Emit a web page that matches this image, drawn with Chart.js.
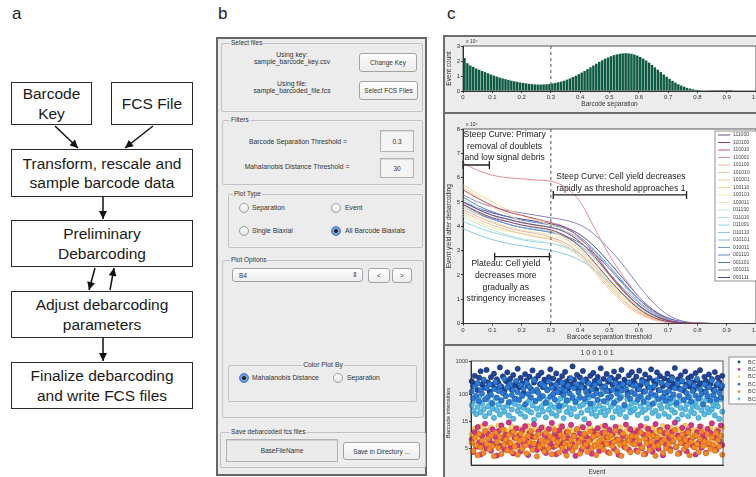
<!DOCTYPE html>
<html>
<head>
<meta charset="utf-8">
<title>Debarcoding figure</title>
<script src="https://cdn.jsdelivr.net/npm/chart.js@4.4.1/dist/chart.umd.min.js"></script>
<style>
  body { margin: 0; width: 756px; height: 477px; overflow: hidden; position: relative; background: #fff;
         font-family: 'Liberation Sans', Arial, sans-serif; color: #1a1a1a; }
  .panel-label { position: absolute; top: 5px; font-size: 17px; line-height: 17px; color: #222; }
  .fbox { position: absolute; box-sizing: border-box; border: 1.5px solid #2a2a2a; display: flex; align-items: center;
          justify-content: center; text-align: center; font-size: 15.5px; line-height: 19.5px; color: #1a1a1a; }
  #gui { position: absolute; left: 216px; top: 37px; width: 211px; height: 439px; box-sizing: border-box;
         border: 2px solid #666; background: #ececec; }
  .gb { position: absolute; box-sizing: border-box; border: 1px solid #c2c2c2; border-radius: 2px; }
  .gl { position: absolute; font-size: 6.5px; line-height: 8px; padding: 0 1px; background: #ececec; color: #333; white-space: nowrap; }
  .tc { position: absolute; transform: translate(-50%, -50%); font-size: 6.8px; line-height: 8px; color: #333; white-space: nowrap; }
  .tl { position: absolute; transform: translateY(-50%); font-size: 6.8px; line-height: 8px; color: #333; white-space: nowrap; }
  .btn { position: absolute; box-sizing: border-box; border: 1px solid #a3a3a3; border-radius: 3px;
         background: linear-gradient(#fefefe, #ececec); display: flex; align-items: center; justify-content: center;
         font-size: 6.5px; color: #333; white-space: nowrap; }
  .inp { position: absolute; box-sizing: border-box; border: 1px solid #b3b3b3; background: #f4f4f4;
         box-shadow: inset 0 1px 1px rgba(0,0,0,0.12); display: flex; align-items: center; justify-content: center;
         font-size: 6.5px; color: #333; }
  .rd { position: absolute; width: 10px; height: 10px; box-sizing: border-box; border-radius: 50%; border: 1px solid #9d9d9d;
        background: linear-gradient(#fff, #e4e4e4); transform: translate(-50%, -50%); }
  .rd.on { border-color: #4a78b8; background: radial-gradient(circle, #222 0, #222 1.5px, #77aaea 2.3px, #3f80d8 100%); }
  #figc { position: absolute; left: 443px; top: 35px; width: 320px; height: 450px; box-sizing: border-box;
          border: 2px solid #6d6d6d; background: #ececec; }
  .sep { position: absolute; left: 443px; width: 313px; height: 2px; background: #6d6d6d; }
  canvas { position: absolute; }
</style>
</head>
<body>

<div class="panel-label" style="left:12px">a</div>
<div class="panel-label" style="left:218px">b</div>
<div class="panel-label" style="left:447px">c</div>

<!-- a: workflow -->
<div class="fbox" style="left:11px;top:82px;width:81px;height:43px">Barcode<br>Key</div>
<div class="fbox" style="left:111px;top:82px;width:82px;height:43px">FCS File</div>
<div class="fbox" style="left:11px;top:149px;width:182px;height:48px">Transform, rescale and<br>sample barcode data</div>
<div class="fbox" style="left:11px;top:220px;width:182px;height:47px">Preliminary<br>Debarcoding</div>
<div class="fbox" style="left:11px;top:291px;width:182px;height:47px">Adjust debarcoding<br>parameters</div>
<div class="fbox" style="left:11px;top:362px;width:182px;height:47px">Finalize debarcoding<br>and write FCS files</div>
<svg style="position:absolute;left:0;top:0" width="210" height="477">
  <defs>
    <marker id="ah" viewBox="0 0 10 10" refX="10" refY="5" markerWidth="9" markerHeight="8" markerUnits="userSpaceOnUse" orient="auto">
      <path d="M0,0 L10,5 L0,10 z" fill="#111"/>
    </marker>
  </defs>
  <g stroke="#111" stroke-width="1.5" marker-end="url(#ah)">
    <line x1="55" y1="126" x2="78" y2="148"/>
    <line x1="153" y1="126" x2="125" y2="148"/>
    <line x1="103" y1="197" x2="103" y2="219"/>
    <line x1="95" y1="268" x2="89" y2="290"/>
    <line x1="110" y1="290" x2="114" y2="268"/>
    <line x1="103" y1="338" x2="103" y2="361"/>
  </g>
</svg>

<!-- b: GUI -->
<div id="gui"></div>
<div class="gb" style="left:221px;top:43px;width:202px;height:69px"></div>
<div class="gl" style="left:230px;top:39px">Select files</div>
<div class="tc" style="left:292px;top:55px">Using key:</div>
<div class="tc" style="left:292px;top:62px">sample_barcode_key.csv</div>
<div class="btn" style="left:359px;top:53px;width:58px;height:19px">Change Key</div>
<div class="tc" style="left:292px;top:84px">Using file:</div>
<div class="tc" style="left:292px;top:91px">sample_barcoded_file.fcs</div>
<div class="btn" style="left:359px;top:81px;width:59px;height:19px">Select FCS Files</div>

<div class="gb" style="left:222px;top:120px;width:201px;height:65px"></div>
<div class="gl" style="left:230px;top:116px">Filters</div>
<div class="tc" style="left:298px;top:142px">Barcode Separation Threshold =</div>
<div class="inp" style="left:380px;top:130px;width:34px;height:22px">0.3</div>
<div class="tc" style="left:297px;top:167px">Mahalanobis Distance Threshold =</div>
<div class="inp" style="left:380px;top:158px;width:34px;height:20px">30</div>

<div class="gb" style="left:228px;top:194px;width:195px;height:54px"></div>
<div class="gl" style="left:233px;top:190px">Plot Type</div>
<div class="rd" style="left:244px;top:208px"></div><div class="tl" style="left:252px;top:208px">Separation</div>
<div class="rd" style="left:336px;top:208px"></div><div class="tl" style="left:345px;top:208px">Event</div>
<div class="rd" style="left:244px;top:231px"></div><div class="tl" style="left:252px;top:231px">Single Biaxial</div>
<div class="rd on" style="left:336px;top:231px"></div><div class="tl" style="left:345px;top:231px">All Barcode Biaxials</div>

<div class="gb" style="left:222px;top:260px;width:202px;height:158px"></div>
<div class="gl" style="left:230px;top:256px">Plot Options</div>
<div class="btn" style="left:232px;top:268px;width:131px;height:14px;justify-content:space-between;padding:0 4px 0 6px"><span>B4</span><span style="font-size:7px">&#8661;</span></div>
<div class="btn" style="left:368px;top:268px;width:22px;height:15px">&lt;</div>
<div class="btn" style="left:392px;top:268px;width:20px;height:15px">&gt;</div>
<div class="gb" style="left:228px;top:365px;width:189px;height:37px"></div>
<div class="tc" style="left:323px;top:365px;background:#ececec;padding:0 1px">Color Plot By</div>
<div class="rd on" style="left:244px;top:378px"></div><div class="tl" style="left:252px;top:378px">Mahalanobis Distance</div>
<div class="rd" style="left:338px;top:378px"></div><div class="tl" style="left:347px;top:378px">Separation</div>

<div class="gb" style="left:220px;top:432px;width:206px;height:36px"></div>
<div class="gl" style="left:230px;top:428px">Save debarcoded fcs files</div>
<div class="inp" style="left:226px;top:439px;width:112px;height:23px;background:#ebebeb">BaseFileName</div>
<div class="btn" style="left:343px;top:442px;width:77px;height:18px">Save in Directory ...</div>

<!-- c: plots -->
<div id="figc"></div>
<div class="sep" style="top:112px"></div>
<div class="sep" style="top:344px"></div>
<canvas id="hist" width="311" height="75" style="left:445px;top:37px"></canvas>
<canvas id="yield" width="311" height="230" style="left:445px;top:114px"></canvas>
<canvas id="biax" width="311" height="131" style="left:445px;top:346px"></canvas>

<script>
Chart.defaults.font.family = "'Liberation Sans', Arial, sans-serif";
Chart.defaults.font.size = 6;
Chart.defaults.color = '#333';
Chart.defaults.animation = false;

// ---- separation histogram (event count x 10^4 per 0.01 bin) ----
var binWidth = 0.01;
var eventCount = [
  2.2, 1.85, 1.7, 1.6, 1.5, 1.42, 1.34, 1.26, 1.18, 1.1,
  1.03, 0.96, 0.9, 0.84, 0.79, 0.74, 0.69, 0.65, 0.61, 0.57,
  0.54, 0.51, 0.48, 0.46, 0.44, 0.43, 0.43, 0.44, 0.45, 0.47,
  0.5, 0.54, 0.58, 0.63, 0.69, 0.76, 0.84, 0.93, 1.02, 1.12,
  1.23, 1.34, 1.46, 1.58, 1.7, 1.82, 1.94, 2.05, 2.15, 2.24,
  2.32, 2.39, 2.44, 2.48, 2.51, 2.52, 2.51, 2.48, 2.43, 2.36,
  2.27, 2.16, 2.03, 1.89, 1.74, 1.58, 1.42, 1.26, 1.1, 0.95,
  0.81, 0.68, 0.56, 0.45, 0.36, 0.28, 0.21, 0.16, 0.12, 0.08,
  0.06, 0.04, 0.03, 0.02, 0.015, 0.01, 0.008, 0.005, 0.004, 0.003,
  0.002, 0.001, 0, 0, 0, 0, 0, 0, 0, 0
];
var separationCutoff = 0.3;

// ---- event yield (x 10^4) vs separation threshold ----
var thresholds = [0, 0.05, 0.1, 0.15, 0.2, 0.25, 0.3, 0.35, 0.4, 0.45, 0.5, 0.55, 0.6, 0.65, 0.7, 0.75, 0.8, 0.85, 0.9, 0.95, 1];
var barcodes = ['111000', '110100', '110010', '110001', '101100', '101010', '101001', '100110', '100101', '100011',
                '011100', '011010', '011001', '010110', '010101', '010011', '001110', '001101', '001011', '000111'];
var barcodeColors = ['#6e4a7e', '#8e3c6a', '#c8506a', '#e88a98', '#f3b0a0', '#f6c39a', '#f7cf90', '#f4dc8c', '#f0e6a4', '#e2eab0',
                     '#c4ead0', '#a6e2e2', '#8cd8ec', '#8ac6ec', '#80b2e6', '#6c9cdc', '#5a84d0', '#5070c0', '#8a84c4', '#4a4a96'];
var yieldByBarcode = [
  [5.0, 4.7, 4.45, 4.3, 4.15, 4.05, 3.95, 3.75, 3.35, 2.75, 2.0, 1.3, 0.75, 0.35, 0.12, 0.03, 0.01, 0, 0, 0, 0],
  [4.9, 4.6, 4.35, 4.2, 4.05, 3.95, 3.85, 3.6, 3.15, 2.5, 1.8, 1.15, 0.6, 0.25, 0.08, 0.02, 0, 0, 0, 0, 0],
  [5.5, 5.15, 4.85, 4.6, 4.45, 4.3, 4.15, 3.95, 3.5, 2.85, 2.05, 1.35, 0.75, 0.35, 0.12, 0.03, 0.01, 0, 0, 0, 0],
  [6.6, 6.3, 6.1, 6.0, 5.95, 5.9, 5.85, 5.6, 5.0, 3.9, 2.8, 1.9, 1.1, 0.5, 0.15, 0.04, 0.01, 0, 0, 0, 0],
  [4.7, 4.4, 4.15, 3.95, 3.8, 3.7, 3.55, 3.3, 2.85, 2.2, 1.5, 0.9, 0.45, 0.18, 0.05, 0.01, 0, 0, 0, 0, 0],
  [4.6, 4.3, 4.05, 3.85, 3.7, 3.55, 3.45, 3.2, 2.75, 2.1, 1.4, 0.8, 0.4, 0.15, 0.04, 0.01, 0, 0, 0, 0, 0],
  [5.6, 5.2, 4.8, 4.5, 4.2, 4.0, 3.8, 3.5, 3.0, 2.35, 1.6, 0.95, 0.5, 0.2, 0.06, 0.01, 0, 0, 0, 0, 0],
  [5.7, 5.35, 5.0, 4.7, 4.45, 4.25, 4.05, 3.8, 3.35, 2.7, 1.95, 1.25, 0.65, 0.28, 0.09, 0.02, 0, 0, 0, 0, 0],
  [4.5, 4.2, 3.95, 3.8, 3.7, 3.6, 3.5, 3.3, 2.9, 2.3, 1.65, 1.05, 0.55, 0.22, 0.07, 0.02, 0, 0, 0, 0, 0],
  [4.8, 4.5, 4.2, 4.0, 3.85, 3.75, 3.65, 3.45, 3.05, 2.45, 1.75, 1.1, 0.6, 0.25, 0.08, 0.02, 0, 0, 0, 0, 0],
  [4.4, 4.1, 3.85, 3.65, 3.5, 3.4, 3.3, 3.1, 2.75, 2.2, 1.6, 1.05, 0.6, 0.27, 0.1, 0.03, 0.01, 0, 0, 0, 0],
  [5.1, 4.75, 4.45, 4.2, 4.05, 3.9, 3.8, 3.6, 3.2, 2.65, 1.95, 1.3, 0.75, 0.35, 0.12, 0.03, 0.01, 0, 0, 0, 0],
  [4.2, 3.95, 3.75, 3.6, 3.45, 3.35, 3.3, 3.15, 2.85, 2.35, 1.75, 1.15, 0.65, 0.3, 0.1, 0.03, 0, 0, 0, 0, 0],
  [3.9, 3.65, 3.45, 3.3, 3.2, 3.1, 3.0, 2.85, 2.6, 2.2, 1.7, 1.15, 0.7, 0.33, 0.12, 0.03, 0.01, 0, 0, 0, 0],
  [5.0, 4.7, 4.45, 4.3, 4.15, 4.05, 3.95, 3.8, 3.45, 2.95, 2.25, 1.55, 0.9, 0.45, 0.17, 0.05, 0.01, 0, 0, 0, 0],
  [4.9, 4.55, 4.3, 4.1, 3.95, 3.85, 3.75, 3.55, 3.2, 2.7, 2.05, 1.4, 0.85, 0.42, 0.16, 0.05, 0.01, 0, 0, 0, 0],
  [5.2, 4.85, 4.6, 4.4, 4.25, 4.15, 4.05, 3.9, 3.55, 3.0, 2.35, 1.65, 1.0, 0.5, 0.2, 0.06, 0.01, 0, 0, 0, 0],
  [4.8, 4.5, 4.3, 4.1, 3.95, 3.85, 3.75, 3.6, 3.3, 2.85, 2.25, 1.6, 1.0, 0.52, 0.22, 0.07, 0.02, 0, 0, 0, 0],
  [5.3, 5.0, 4.8, 4.65, 4.55, 4.45, 4.35, 4.25, 4.05, 3.65, 3.05, 2.35, 1.55, 0.85, 0.35, 0.1, 0.02, 0, 0, 0, 0],
  [5.0, 4.75, 4.55, 4.4, 4.3, 4.2, 4.1, 3.95, 3.65, 3.15, 2.5, 1.8, 1.1, 0.55, 0.22, 0.06, 0.01, 0, 0, 0, 0]
];

// ---- all-barcode biaxial (barcode 1 0 0 1 0 1), intensities in axis units ----
var biaxLabels = ['BC1', 'BC2', 'BC3', 'BC4', 'BC5', 'BC6'];
var biaxColors = ['#1f459c', '#d8348c', '#fbd25a', '#2c7bd6', '#f58b22', '#58bde6'];
var biaxEdges = ['#102a66', '#9c1f5e', '#d9a830', '#1a559e', '#c9631a', '#2c8cb8'];
var biaxOrder = [3, 3, 4, 2, 2, 4];
var intensityTickPos = [0, 1, 2, 3.26];
var intensityTickLabels = ['5', '15', '100', '1000'];
var bc1 = [2.51,2.33,2.71,2.42,2.18,2.64,2.88,2.39,2.55,2.27,2.93,2.47,2.12,2.66,2.38,2.79,2.24,2.58,2.45,3.02,2.31,2.69,2.16,2.52,2.84,2.41,2.6,2.2,2.74,2.36,
  2.49,2.97,2.28,2.63,2.43,2.08,2.77,2.54,2.35,2.68,2.22,2.91,2.46,2.59,2.14,2.72,2.4,2.83,2.29,2.57,2.48,2.19,2.66,2.95,2.37,2.61,2.25,2.8,2.44,2.53,
  2.1,2.7,2.34,2.86,2.5,2.23,2.62,2.39,3.06,2.56,2.3,2.75,2.17,2.65,2.42,2.89,2.27,2.58,2.47,2.13,2.71,2.36,2.82,2.52,2.2,2.67,2.44,2.99,2.32,2.6,
  2.26,2.78,2.49,2.15,2.64,2.38,2.87,2.55,2.21,2.69,2.41,2.93,2.34,2.57,2.46,2.11,2.73,2.4,2.85,2.53,
  2.44,2.68,2.21,2.9,2.37,2.56,2.13,2.76,2.49,2.3,2.63,2.95,2.26,2.51,2.4,2.84,2.18,2.7,2.45,2.33,2.61,2.09,2.79,2.54,2.28,2.66,2.42,3.0,2.35,2.58,
  2.24,2.73,2.5,2.16,2.87,2.39,2.62,2.31,2.69,2.47,2.2,2.81,2.55,2.34,2.92,2.43,2.12,2.67,2.52,2.29,2.76,2.41,2.59,2.19,2.85,2.36,2.64,2.48,2.23,2.71];
var bc2 = [0.35,-0.12,0.62,0.08,0.81,0.24,-0.21,0.47,0.15,0.93,0.02,0.56,0.31,-0.07,0.72,0.19,0.44,-0.25,0.66,0.11,0.87,0.38,-0.02,0.53,0.27,0.98,0.05,0.6,-0.17,0.41,
  0.76,0.13,0.5,-0.09,0.69,0.22,0.84,0.33,-0.23,0.58,0.1,0.45,0.91,0.17,-0.04,0.64,0.29,0.79,0.0,0.52,-0.15,0.37,0.74,0.2,0.96,0.07,0.55,-0.2,0.43,0.68,
  0.14,0.83,0.26,-0.1,0.61,0.4,0.03,0.89,0.18,0.49,-0.26,0.71,0.32,0.57,-0.05,0.8,0.23,0.46,0.09,0.94,0.36,-0.18,0.65,0.12,0.51,0.77,-0.08,0.28,0.59,0.16,
  0.86,0.42,-0.13,0.7,0.21,0.54,0.01,0.82,0.34,-0.22,0.63,0.25,0.48,0.06,0.9,0.39,-0.03,0.73,0.3,0.57,
  0.44,-0.06,0.67,0.19,0.85,0.02,0.53,-0.19,0.36,0.75,0.1,0.6,-0.11,0.47,0.92,0.24,0.0,0.7,0.33,-0.24,0.58,0.15,0.81,0.4,-0.01,0.63,0.27,0.97,0.06,0.5,
  -0.16,0.38,0.78,0.2,0.55,-0.09,0.69,0.31,0.88,0.12,0.45,-0.21,0.62,0.23,0.83,0.04,0.52,0.35,-0.14,0.74,0.17,0.59,0.95,0.08,0.41,-0.04,0.66,0.29,0.87,0.14];
var bc3 = [0.52,0.31,0.74,0.12,0.6,0.43,0.83,0.25,0.57,0.05,0.68,0.39,0.2,0.79,0.48,0.15,0.63,0.34,0.86,0.27,0.55,0.08,0.71,0.46,0.22,0.65,0.37,0.81,0.18,0.59,
  0.41,0.02,0.76,0.29,0.53,0.14,0.69,0.44,0.84,0.24,0.62,0.35,0.1,0.73,0.5,0.19,0.66,0.32,0.8,0.28,0.58,0.06,0.7,0.45,0.23,0.77,0.38,0.61,0.16,0.54,
  0.85,0.3,0.67,0.11,0.49,0.42,0.75,0.21,0.6,0.36,0.04,0.72,0.47,0.26,0.82,0.33,0.56,0.13,0.64,0.4,0.78,0.17,0.51,0.29,0.69,0.07,0.58,0.44,0.83,0.22,
  0.63,0.35,0.74,0.15,0.53,0.39,0.0,0.7,0.46,0.25,0.8,0.31,0.57,0.12,0.66,0.42,0.76,0.2,0.6,0.37,
  0.47,0.72,0.26,0.61,0.09,0.55,0.38,0.81,0.2,0.67,0.43,0.14,0.76,0.33,0.58,0.03,0.69,0.49,0.24,0.84,0.36,0.63,0.17,0.52,0.79,0.29,0.65,0.41,0.08,0.73,
  0.45,0.22,0.6,0.35,0.86,0.12,0.57,0.4,0.75,0.27,0.64,0.05,0.7,0.48,0.19,0.82,0.34,0.59,0.15,0.66,0.42,0.78,0.23,0.54,0.1,0.71,0.37,0.62,0.28,0.8];
var bc4 = [2.12,1.88,2.31,1.97,2.44,1.76,2.18,2.05,2.57,1.84,2.26,1.93,2.39,2.01,1.69,2.22,2.48,1.9,2.15,2.34,1.79,2.07,2.6,1.95,2.28,1.73,2.41,2.0,2.19,1.86,
  2.52,2.1,1.81,2.36,1.98,2.24,1.65,2.45,2.03,2.3,1.91,2.14,2.55,1.78,2.2,2.08,1.87,2.42,1.96,2.33,1.71,2.17,2.5,1.94,2.27,2.04,1.83,2.38,2.11,1.59,
  2.23,2.46,1.99,2.16,1.8,2.35,2.06,2.62,1.89,2.25,1.75,2.4,2.09,1.92,2.29,2.53,1.85,2.13,2.01,2.43,1.68,2.21,1.97,2.37,2.07,1.82,2.49,2.02,2.26,1.77,
  2.32,2.14,1.9,2.58,1.95,2.19,1.72,2.44,2.05,2.3,1.88,2.16,2.39,1.63,2.24,2.0,2.47,1.86,2.11,2.34,
  2.03,2.36,1.83,2.21,1.96,2.5,1.74,2.12,2.41,1.9,2.27,2.06,1.67,2.33,1.99,2.56,1.85,2.18,2.45,1.93,2.09,1.78,2.38,2.15,1.88,2.61,2.02,2.25,1.7,2.43,
  1.97,2.2,2.52,1.81,2.31,2.07,1.92,2.47,1.76,2.14,2.35,1.98,2.6,1.87,2.22,2.04,1.64,2.39,2.1,1.95,2.29,1.79,2.54,2.0,2.17,1.84,2.42,2.08,1.91,2.34];
var bc5 = [0.22,-0.08,0.41,0.13,-0.24,0.55,0.05,0.31,-0.15,0.67,0.18,0.38,-0.02,0.49,0.1,-0.27,0.6,0.26,0.03,0.44,-0.19,0.71,0.15,0.34,-0.06,0.52,0.21,-0.12,0.63,0.08,
  0.4,-0.22,0.29,0.57,0.0,0.35,0.12,-0.17,0.48,0.24,0.66,-0.04,0.19,0.43,-0.28,0.54,0.07,0.32,0.16,-0.1,0.59,0.27,0.02,0.46,-0.2,0.37,0.69,0.11,0.25,-0.14,
  0.51,0.04,0.4,0.2,-0.25,0.62,0.14,0.33,-0.07,0.47,0.09,0.73,0.23,-0.18,0.39,0.06,0.56,0.17,-0.11,0.3,0.64,0.01,0.45,0.12,-0.23,0.53,0.28,0.08,0.36,-0.03,
  0.6,0.19,0.42,-0.16,0.5,0.1,0.26,0.68,-0.09,0.34,0.15,-0.26,0.57,0.22,0.04,0.44,0.31,-0.13,0.48,0.18,
  0.16,0.45,-0.11,0.3,0.62,0.04,-0.21,0.38,0.2,0.56,-0.05,0.27,0.49,0.09,-0.26,0.42,0.13,0.66,0.24,-0.15,0.35,0.02,0.58,0.18,-0.08,0.47,0.29,0.7,0.07,-0.19,
  0.39,0.22,0.53,-0.02,0.33,0.11,0.61,-0.24,0.26,0.44,0.05,0.5,0.17,-0.12,0.37,0.64,0.1,0.28,-0.17,0.55,0.21,0.0,0.43,0.14,-0.07,0.59,0.32,0.08,0.48,-0.22];
var bc6 = [1.62,1.41,1.78,1.29,1.55,1.93,1.36,1.68,1.47,1.21,1.84,1.58,1.33,1.72,1.5,1.15,1.89,1.44,1.65,1.27,1.8,1.53,1.38,1.98,1.6,1.24,1.74,1.46,1.12,1.67,
  1.86,1.4,1.57,1.3,1.95,1.52,1.19,1.7,1.43,1.82,1.35,1.61,1.08,1.77,1.49,1.26,1.9,1.56,1.39,1.69,1.17,1.83,1.45,1.63,1.32,2.02,1.54,1.23,1.75,1.42,
  1.87,1.59,1.14,1.66,1.37,1.79,1.51,1.28,1.96,1.48,1.71,1.2,1.85,1.58,1.34,1.64,1.1,1.76,1.44,1.91,1.55,1.31,1.68,1.47,1.22,1.81,1.6,1.36,2.05,1.5,
  1.25,1.73,1.41,1.88,1.57,1.16,1.67,1.39,1.79,1.52,1.29,1.94,1.46,1.62,1.18,1.84,1.54,1.35,1.7,1.43,
  1.49,1.73,1.26,1.92,1.58,1.37,1.81,1.45,1.13,1.66,1.53,1.97,1.33,1.7,1.41,1.86,1.22,1.61,1.5,1.78,1.3,2.0,1.56,1.19,1.69,1.44,1.88,1.35,1.63,1.09,
  1.76,1.52,1.27,1.83,1.47,1.65,1.21,1.93,1.4,1.59,1.32,1.74,1.55,1.15,1.87,1.43,1.68,1.28,1.8,1.51,1.36,1.95,1.46,1.62,1.24,1.71,1.57,1.11,1.84,1.38];

var FONT = "'Liberation Sans', Arial, sans-serif";

// white axes area, box, cutoff line, notes, brackets and MATLAB-style legends
var plotBox = {
  id: 'plotBox',
  beforeDraw: function (chart) {
    var a = chart.chartArea, c = chart.ctx;
    c.save();
    c.fillStyle = '#fff';
    c.fillRect(a.left, a.top, a.right - a.left, a.bottom - a.top);
    c.restore();
  },
  afterDatasetsDraw: function (chart, args, o) {
    var a = chart.chartArea, c = chart.ctx, xs = chart.scales.x, ys = chart.scales.y;
    c.save();
    if (o.cutoff !== undefined) {
      var px = xs.getPixelForValue(o.cutoff);
      c.strokeStyle = '#555';
      c.lineWidth = 1;
      c.setLineDash([3, 3]);
      c.beginPath(); c.moveTo(px, a.top); c.lineTo(px, a.bottom); c.stroke();
      c.setLineDash([]);
    }
    (o.brackets || []).forEach(function (b) {
      var x0 = xs.getPixelForValue(b.from), x1 = xs.getPixelForValue(b.to), y = ys.getPixelForValue(b.y);
      c.strokeStyle = '#222';
      c.lineWidth = 1.3;
      c.beginPath();
      c.moveTo(x0, y); c.lineTo(x1, y);
      c.moveTo(x0, y - 4); c.lineTo(x0, y + 4);
      c.moveTo(x1, y - 4); c.lineTo(x1, y + 4);
      c.stroke();
    });
    (o.notes || []).forEach(function (n) {
      c.font = '8.6px ' + FONT;
      c.fillStyle = '#222';
      c.textAlign = 'center';
      c.textBaseline = 'middle';
      var px = xs.getPixelForValue(n.x), py = ys.getPixelForValue(n.y);
      n.lines.forEach(function (t, k) { c.fillText(t, px, py + k * 11.6); });
    });
    c.strokeStyle = '#333';
    c.lineWidth = 0.8;
    c.strokeRect(a.left, a.top, a.right - a.left, a.bottom - a.top);
    if (o.exponent) {
      c.font = '5px ' + FONT;
      c.fillStyle = '#333';
      c.textAlign = 'left';
      c.textBaseline = 'middle';
      c.fillText(o.exponent, a.left + 3, a.top - 4);
    }
    if (o.title) {
      c.font = '7px ' + FONT;
      c.fillStyle = '#333';
      c.textAlign = 'center';
      c.textBaseline = 'middle';
      c.fillText(o.title, (a.left + a.right) / 2, a.top - 8);
    }
    var L = o.legendBox;
    if (L) {
      c.fillStyle = '#fff';
      c.fillRect(L.x, L.y, L.w, L.h);
      c.strokeStyle = '#666';
      c.lineWidth = 0.7;
      c.strokeRect(L.x, L.y, L.w, L.h);
      c.font = L.font + 'px ' + FONT;
      c.textAlign = 'left';
      c.textBaseline = 'middle';
      chart.data.datasets.forEach(function (d, k) {
        var y = L.y + L.first + k * L.row;
        if (L.kind === 'line') {
          c.strokeStyle = d.borderColor;
          c.lineWidth = 1;
          c.beginPath(); c.moveTo(L.x + 3, y); c.lineTo(L.x + 15, y); c.stroke();
        } else {
          c.fillStyle = d.pointBackgroundColor;
          c.beginPath(); c.arc(L.x + L.mark, y, 1.4, 0, Math.PI * 2); c.fill();
        }
        c.fillStyle = '#444';
        c.fillText(d.label, L.x + L.text, y);
      });
    }
    c.restore();
  }
};

function yAxis(min, max, title, width) {
  return {
    min: min, max: max,
    ticks: { stepSize: 1, padding: 1 },
    grid: { drawOnChartArea: false, tickLength: 2, color: '#333' },
    border: { color: '#333' },
    title: { display: true, text: title, font: { size: 6.5 }, padding: 0 },
    afterFit: function (s) { s.width = width; }
  };
}

function sepAxis(title, height, padBottom) {
  return {
    type: 'linear', min: 0, max: 1, offset: false,
    ticks: { stepSize: 0.1, padding: 1, maxRotation: 0, autoSkip: false },
    grid: { drawOnChartArea: false, tickLength: 2, color: '#333', offset: false },
    border: { color: '#333' },
    title: { display: true, text: title, font: { size: 6.5 }, padding: { top: 0, bottom: padBottom } },
    afterFit: function (s) { s.height = height; s.paddingLeft = 0; s.paddingRight = 0; }
  };
}

// histogram
new Chart(document.getElementById('hist'), {
  type: 'bar',
  data: {
    datasets: [{
      label: 'Event count',
      data: eventCount.map(function (v, i) { return { x: (i + 0.5) * binWidth, y: v }; }),
      backgroundColor: '#0e5a43',
      barPercentage: 0.85,
      categoryPercentage: 1
    }]
  },
  options: {
    responsive: false,
    layout: { padding: { left: 0, top: 9, right: 0, bottom: 0 } },
    scales: {
      x: sepAxis('Barcode separation', 21, 3.5),
      y: yAxis(0, 3, 'Event count', 18)
    },
    plugins: {
      legend: { display: false },
      tooltip: { enabled: false },
      plotBox: { cutoff: separationCutoff, exponent: 'x 10\u2074' }
    }
  },
  plugins: [plotBox]
});

// yield curves
new Chart(document.getElementById('yield'), {
  type: 'line',
  data: {
    datasets: barcodes.map(function (code, k) {
      return {
        label: code,
        data: yieldByBarcode[k].map(function (v, i) { return { x: thresholds[i], y: v }; }),
        borderColor: barcodeColors[k],
        borderWidth: 1,
        pointRadius: 0,
        cubicInterpolationMode: 'monotone'
      };
    })
  },
  options: {
    responsive: false,
    layout: { padding: { left: 0, top: 15, right: 0, bottom: 0 } },
    scales: {
      x: sepAxis('Barcode separation threshold', 20.5, 2.5),
      y: yAxis(0, 8, 'Event yield after debarcoding', 18)
    },
    plugins: {
      legend: { display: false },
      tooltip: { enabled: false },
      plotBox: {
        cutoff: separationCutoff,
        exponent: 'x 10\u2074',
        notes: [
          { x: 0.142, y: 7.76, lines: ['Steep Curve: Primary', 'removal of doublets', 'and low signal debris'] },
          { x: 0.539, y: 6.03, lines: ['Steep Curve: Cell yield decreases', 'rapidly as threshold approaches 1'] },
          { x: 0.146, y: 2.45, lines: ['Plateau: Cell yield', 'decreases more', 'gradually as', 'stringency increases'] }
        ],
        brackets: [
          { from: 0, to: 0.09, y: 6.52 },
          { from: 0.308, to: 0.763, y: 5.29 },
          { from: 0.108, to: 0.295, y: 2.75 }
        ],
        legendBox: { kind: 'line', x: 270, y: 17, w: 50, h: 150, first: 4, row: 7.5, text: 18, font: 5 }
      }
    }
  },
  plugins: [plotBox]
});

// all-barcode biaxial scatter
var biaxSeries = [bc1, bc2, bc3, bc4, bc5, bc6];
var nEvents = Math.max.apply(null, biaxSeries.map(function (s) { return s.length; }));
var events = [];
for (var i = 1; i <= nEvents; i++) events.push(i);

new Chart(document.getElementById('biax'), {
  type: 'line',
  data: {
    labels: events,
    datasets: biaxSeries.map(function (s, k) {
      return {
        label: biaxLabels[k],
        data: s,
        showLine: false,
        pointRadius: 2.6,
        pointBorderWidth: 0.6,
        pointBackgroundColor: biaxColors[k],
        pointBorderColor: biaxEdges[k],
        borderColor: biaxColors[k],
        order: biaxOrder[k]
      };
    })
  },
  options: {
    responsive: false,
    layout: { padding: { left: 0, top: 15, right: 33, bottom: 0 } },
    scales: {
      x: {
        type: 'category', offset: true,
        ticks: { display: false },
        grid: { display: false },
        border: { color: '#333' },
        title: { display: true, text: 'Event', font: { size: 6.5 }, padding: { top: 0, bottom: 1 } },
        afterFit: function (s) { s.height = 12; s.paddingLeft = 0; s.paddingRight = 0; }
      },
      y: {
        min: -0.6, max: 3.26,
        afterBuildTicks: function (s) { s.ticks = intensityTickPos.map(function (v) { return { value: v }; }); },
        ticks: { padding: 1, font: { size: 5.5 }, callback: function (v, idx) { return intensityTickLabels[idx]; } },
        grid: { drawOnChartArea: false, tickLength: 2, color: '#333' },
        border: { color: '#333' },
        title: { display: true, text: 'Barcode intensities', font: { size: 6 }, padding: 0 },
        afterFit: function (s) { s.width = 26; }
      }
    },
    plugins: {
      legend: { display: false },
      tooltip: { enabled: false },
      plotBox: {
        title: '1 0 0 1 0 1',
        legendBox: { kind: 'dot', x: 284, y: 11, w: 40, h: 47, first: 5, row: 7.4, mark: 10, text: 19, font: 5.5 }
      }
    }
  },
  plugins: [plotBox]
});
</script>
</body>
</html>
